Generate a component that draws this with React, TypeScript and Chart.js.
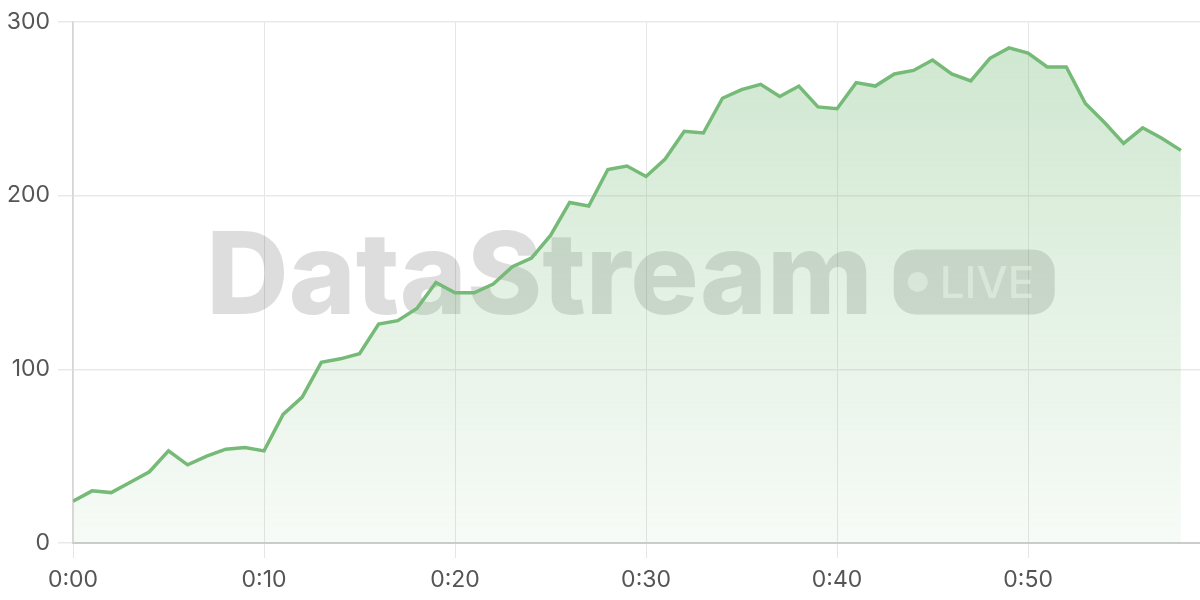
import React, { useEffect, useRef } from "react";
import { Chart, registerables } from "chart.js";

Chart.register(...registerables);

// minute index for each sample (0:00 .. 0:58)
const minutes: number[] = [
  0, 1, 2, 3, 4, 5, 6, 7, 8, 9,
  10, 11, 12, 13, 14, 15, 16, 17, 18, 19,
  20, 21, 22, 23, 24, 25, 26, 27, 28, 29,
  30, 31, 32, 33, 34, 35, 36, 37, 38, 39,
  40, 41, 42, 43, 44, 45, 46, 47, 48, 49,
  50, 51, 52, 53, 54, 55, 56, 57, 58,
];

const values: number[] = [
  24, 30, 29, 35, 41, 53, 45, 50, 54, 55,
  53, 74, 84, 104, 106, 109, 126, 128, 135, 150,
  144, 144, 149, 159, 164, 177, 196, 194, 215, 217,
  211, 221, 237, 236, 256, 261, 264, 257, 263, 251,
  250, 265, 263, 270, 272, 278, 270, 266, 279, 285,
  282, 274, 274, 253, 242, 230, 239, 233, 226,
];

const xMin = 0;
const xMax = 59;
const xStep = 10;
const yMin = 0;
const yMax = 300;
const yStep = 100;

const watermarkText = "DataStream";
const badgeText = "LIVE";

const LINE = "rgb(118,186,120)";
const FONT = "Inter, 'DejaVu Sans', sans-serif";

const fmtMinute = (v: number) => `0:${String(v).padStart(2, "0")}`;

const watermarkPlugin = {
  id: "watermark",
  beforeDatasetsDraw(chart: any) {
    const { ctx, chartArea } = chart;
    const cx = (chartArea.left + chartArea.right) / 2 - 6;
    const cy = (chartArea.top + chartArea.bottom) / 2;
    ctx.save();
    ctx.font = `800 114px ${FONT}`;
    const tw = ctx.measureText(watermarkText).width;
    const gap = 21;
    const bw = 161;
    const bh = 65;
    const total = tw + gap + bw;
    const x0 = cx - total / 2;
    const baseline = cy + 32;
    ctx.fillStyle = "rgba(0,0,0,0.135)";
    ctx.textBaseline = "alphabetic";
    ctx.fillText(watermarkText, x0, baseline);
    // badge
    const bx = x0 + tw + gap;
    const by = baseline - bh;
    ctx.beginPath();
    ctx.roundRect(bx, by, bw, bh, 22);
    ctx.fill();
    ctx.fillStyle = "rgba(255,255,255,0.6)";
    ctx.beginPath();
    ctx.arc(bx + 24, by + bh / 2, 10, 0, Math.PI * 2);
    ctx.fill();
    ctx.font = `500 44px ${FONT}`;
    ctx.fillText(badgeText, bx + 46, by + 49);
    ctx.restore();
  },
};

export default function App() {
  const ref = useRef<HTMLCanvasElement | null>(null);

  useEffect(() => {
    document.body.style.margin = "0";
    const canvas = ref.current!;
    const ctx = canvas.getContext("2d")!;
    const chart = new Chart(ctx, {
      type: "line",
      data: {
        datasets: [
          {
            data: minutes.map((m, i) => ({ x: m, y: values[i] })),
            borderColor: LINE,
            borderWidth: 3.5,
            pointRadius: 0,
            tension: 0,
            fill: "origin",
            backgroundColor: (c: any) => {
              const area = c.chart.chartArea;
              if (!area) return "rgba(118,186,120,0.2)";
              const g = c.chart.ctx.createLinearGradient(0, area.top, 0, area.bottom);
              g.addColorStop(0, "rgba(118,186,120,0.36)");
              g.addColorStop(1, "rgba(118,186,120,0.06)");
              return g;
            },
          },
        ],
      },
      options: {
        responsive: false,
        animation: false,
        devicePixelRatio: 1,
        layout: { padding: { top: 0, right: 0, left: 0, bottom: 0 } },
        plugins: {
          legend: { display: false },
          tooltip: { enabled: false },
        },
        scales: {
          x: {
            type: "linear",
            min: xMin,
            max: xMax,
            afterFit: (s: any) => {
              s.height = 57;
            },
            ticks: {
              stepSize: xStep,
              includeBounds: false,
              callback: (v: any) => fmtMinute(Number(v)),
              color: "#555",
              font: { family: FONT, size: 23 },
              padding: 8,
              maxRotation: 0,
            },
            grid: { color: "#e6e6e6", lineWidth: 1, tickLength: 15 },
            border: { color: "#cccccc", width: 2 },
          },
          y: {
            min: yMin,
            max: yMax,
            afterFit: (s: any) => {
              s.width = 73;
            },
            ticks: {
              stepSize: yStep,
              color: "#555",
              font: { family: FONT, size: 23 },
              padding: 8,
            },
            grid: { color: "#e9e9e9", lineWidth: 1.5, tickLength: 15 },
            border: { color: "#d6d6d6", width: 1.5 },
          },
        },
      },
      plugins: [watermarkPlugin],
    });
    return () => chart.destroy();
  }, []);

  return (
    <div style={{ width: 1200, height: 600 }}>
      <canvas ref={ref} width={1200} height={600} style={{ display: "block" }} />
    </div>
  );
}
